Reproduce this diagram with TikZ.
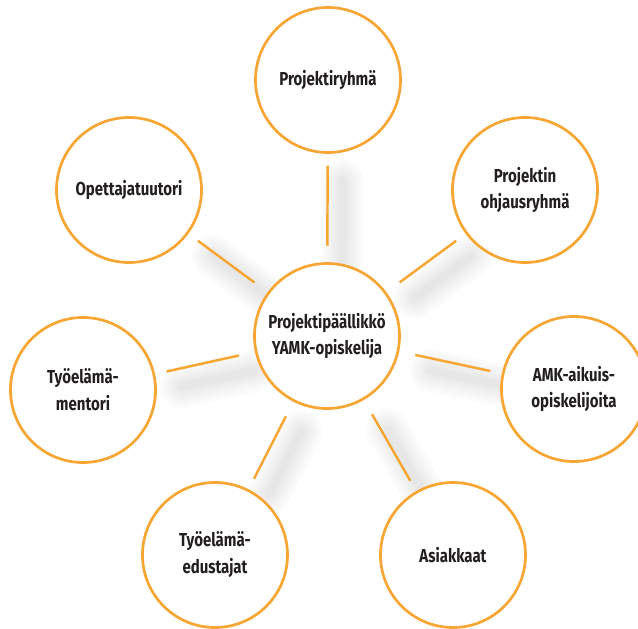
\documentclass[tikz,border=0pt]{standalone}
\usepackage{fontspec}
\setmainfont{Fira Sans}[FakeStretch=0.8]
\usepackage{xcolor}
\usetikzlibrary{backgrounds}

\definecolor{naranja}{RGB}{247,166,51}
\definecolor{texto}{RGB}{35,31,32}

\tikzset{
  rol/.style={circle, draw=naranja, line width=2.3pt, fill=white,
    minimum size=4.35cm, inner sep=0pt, align=center,
    text=texto, font=\bfseries\fontsize{16}{23}\selectfont},
  rayo/.style={draw=naranja, line width=2.1pt, shorten <=14pt, shorten >=10pt},
  sombra/.style={draw=black, line width=#1, opacity=0.015, line cap=round,
    shorten <=14pt, shorten >=10pt,
    transform canvas={xshift=13pt, yshift=-13pt}}
}

\begin{document}
\begin{tikzpicture}[x=0.03cm, y=-0.03cm]

    \useasboundingbox (0,0) rectangle (638,629);

    % circulo central
    \node[rol] (jefe) at (327,336) {Projektip\"a\"allikk\"o\\YAMK-opiskelija};

    % circulos exteriores
    \node[rol] (ryhma) at (328,80) {Projektiryhm\"a};
    \node[rol] (tuutori) at (129,190) {Opettajatuutori};
    \node[rol] (ohjaus) at (525,190) {Projektin\\ohjausryhm\"a};
    \node[rol] (mentori) at (83,390) {Ty\"oel\"am\"a-\\mentori};
    \node[rol] (amk) at (574,389) {AMK-aikuis-\\opiskelijoita};
    \node[rol] (edustajat) at (215,555) {Ty\"oel\"am\"a-\\edustajat};
    \node[rol] (asiakkaat) at (453,555) {Asiakkaat};

    % sombras difusas
    \begin{scope}[on background layer]
        \foreach \ancho in {36pt,30pt,24pt,18pt,12pt,7pt}
            \foreach \fin in {ryhma,tuutori,ohjaus,mentori,amk,edustajat,asiakkaat}
                \draw[sombra=\ancho] (jefe) -- (\fin);
    \end{scope}

    % rayos
    \foreach \fin in {ryhma,tuutori,ohjaus,mentori,amk,edustajat,asiakkaat}
        \draw[rayo] (jefe) -- (\fin);

\end{tikzpicture}
\end{document}
